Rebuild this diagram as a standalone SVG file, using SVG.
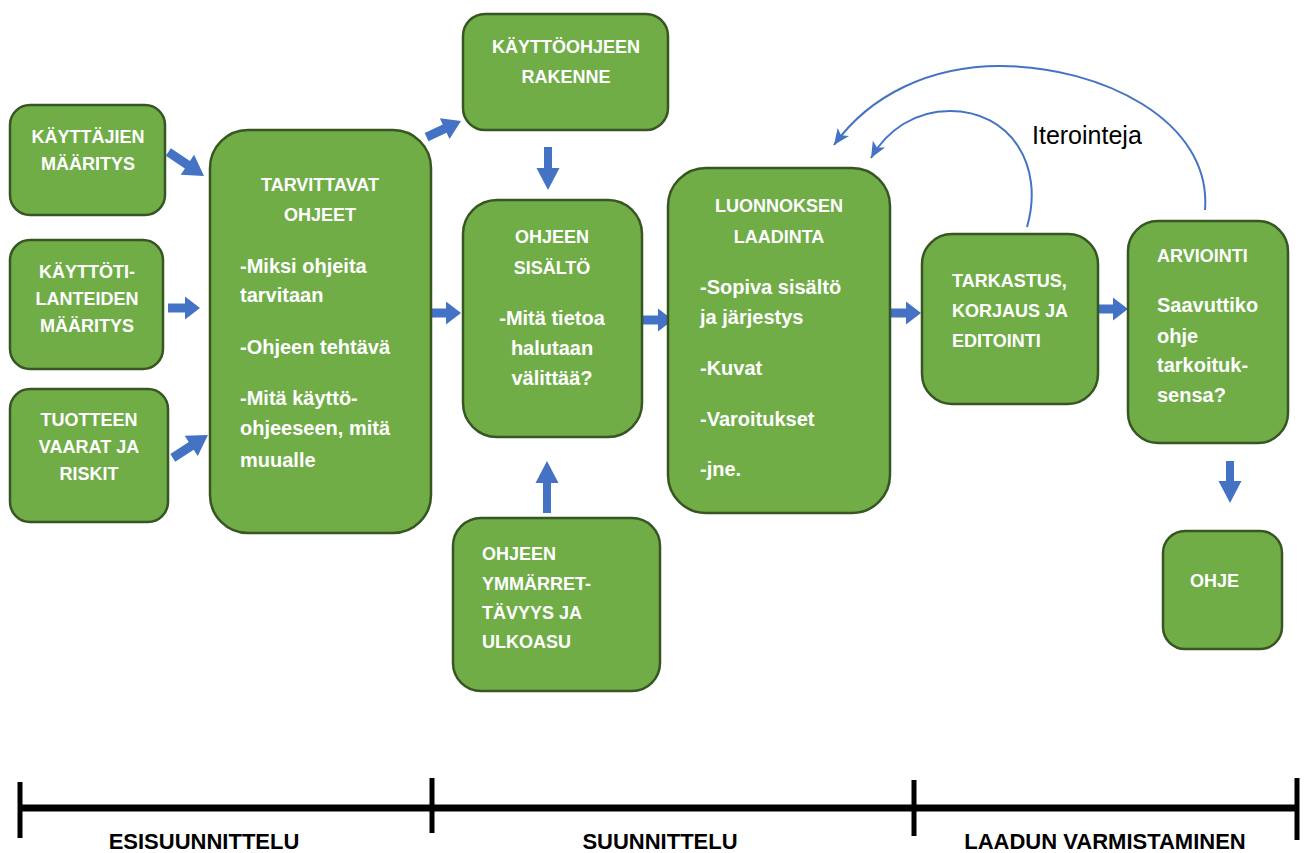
<svg xmlns="http://www.w3.org/2000/svg" width="1304" height="853" viewBox="0 0 1304 853">
<defs>
<style>
.box{fill:#70AD47;stroke:#375623;stroke-width:2.5}
.h{font-family:"Liberation Sans",Arial,sans-serif;font-weight:bold;font-size:18px;fill:#fff}
.b{font-family:"Liberation Sans",Arial,sans-serif;font-weight:bold;font-size:20px;fill:#fff}
.c{text-anchor:middle}
.ba{fill:#4472C4}
.curve{fill:none;stroke:#4472C4;stroke-width:2}
.tl{stroke:#000;fill:none}
.lab{font-family:"Liberation Sans",Arial,sans-serif;font-weight:bold;font-size:22px;fill:#000;text-anchor:middle}
</style>
<marker id="ah" markerUnits="userSpaceOnUse" markerWidth="18" markerHeight="14" refX="16" refY="7" orient="auto">
<path d="M0,0 L16,7 L0,14 L4,7 Z" fill="#4472C4"/>
</marker>
</defs>
<rect width="1304" height="853" fill="#fff"/>

<g id="connectors">
<path class="ba" transform="translate(204,176) rotate(34)" d="M-43,-4.5 H-20 V-12 L0,0 L-20,12 V4.5 H-43 Z"/>
<path class="ba" transform="translate(200,308)" d="M-32,-4.5 H-15 V-11.5 L0,0 L-15,11.5 V4.5 H-32 Z"/>
<path class="ba" transform="translate(208,435) rotate(-33)" d="M-42,-4.5 H-20 V-12 L0,0 L-20,12 V4.5 H-42 Z"/>
<path class="ba" transform="translate(461,121) rotate(-25)" d="M-38,-4.5 H-18 V-11.5 L0,0 L-18,11.5 V4.5 H-38 Z"/>
<path class="ba" transform="translate(461,313)" d="M-30,-4.5 H-15 V-11.5 L0,0 L-15,11.5 V4.5 H-30 Z"/>
<path class="ba" transform="translate(548,190) rotate(90)" d="M-43,-4 H-22 V-11.5 L0,0 L-22,11.5 V4 H-43 Z"/>
<path class="ba" transform="translate(547,461) rotate(-90)" d="M-52,-4 H-22 V-11.5 L0,0 L-22,11.5 V4 H-52 Z"/>
<path class="ba" transform="translate(673,320)" d="M-30,-4.5 H-15 V-11.5 L0,0 L-15,11.5 V4.5 H-30 Z"/>
<path class="ba" transform="translate(921,313)" d="M-31,-4.5 H-15 V-11.5 L0,0 L-15,11.5 V4.5 H-31 Z"/>
<path class="ba" transform="translate(1128,309)" d="M-30,-4.5 H-15 V-11.5 L0,0 L-15,11.5 V4.5 H-30 Z"/>
<path class="ba" transform="translate(1230,503) rotate(90)" d="M-42,-4 H-22 V-11.5 L0,0 L-22,11.5 V4 H-42 Z"/>
<path class="curve" marker-end="url(#ah)" d="M1205,210 C1212,120 1100,66 1000,66 C930,66 870,95 834,145"/>
<path class="curve" marker-end="url(#ah)" d="M1027,227 C1045,165 1010,111 950,111 C915,111 887,130 871,158"/>
<text x="1032" y="144" font-family="Liberation Sans, Arial, sans-serif" font-size="25" fill="#000">Iterointeja</text>
</g>

<g id="n-kayttajien">
<rect class="box" x="10" y="105" width="155" height="110" rx="20"/>
<text class="h c" x="88" y="143">KÄYTTÄJIEN</text>
<text class="h c" x="88" y="170">MÄÄRITYS</text>
</g>
<g id="n-kayttotilanteiden">
<rect class="box" x="10" y="240" width="153" height="129" rx="20"/>
<text class="h c" x="87" y="278">KÄYTTÖTI-</text>
<text class="h c" x="87" y="305">LANTEIDEN</text>
<text class="h c" x="87" y="332">MÄÄRITYS</text>
</g>
<g id="n-tuotteen">
<rect class="box" x="10" y="389" width="158" height="133" rx="20"/>
<text class="h c" x="89" y="426">TUOTTEEN</text>
<text class="h c" x="89" y="453">VAARAT JA</text>
<text class="h c" x="89" y="480">RISKIT</text>
</g>
<g id="n-tarvittavat">
<rect class="box" x="210" y="130" width="221" height="403" rx="38"/>
<text class="h c" x="320" y="191">TARVITTAVAT</text>
<text class="h c" x="320" y="221">OHJEET</text>
<text class="b" x="240" y="273">-Miksi ohjeita</text>
<text class="b" x="240" y="302">tarvitaan</text>
<text class="b" x="240" y="354">-Ohjeen tehtävä</text>
<text class="b" x="240" y="405">-Mitä käyttö-</text>
<text class="b" x="240" y="435">ohjeeseen, mitä</text>
<text class="b" x="240" y="467">muualle</text>
</g>
<g id="n-rakenne">
<rect class="box" x="463" y="14" width="205" height="116" rx="22"/>
<text class="h c" x="566" y="53">KÄYTTÖOHJEEN</text>
<text class="h c" x="566" y="83">RAKENNE</text>
</g>
<g id="n-sisalto">
<rect class="box" x="463" y="200" width="179" height="237" rx="34"/>
<text class="h c" x="552" y="243">OHJEEN</text>
<text class="h c" x="552" y="274">SISÄLTÖ</text>
<text class="b c" x="552" y="325">-Mitä tietoa</text>
<text class="b c" x="552" y="355">halutaan</text>
<text class="b c" x="552" y="385">välittää?</text>
</g>
<g id="n-luonnoksen">
<rect class="box" x="668" y="168" width="222" height="345" rx="38"/>
<text class="h c" x="779" y="212">LUONNOKSEN</text>
<text class="h c" x="779" y="243">LAADINTA</text>
<text class="b" x="700" y="294">-Sopiva sisältö</text>
<text class="b" x="700" y="324">ja järjestys</text>
<text class="b" x="700" y="375">-Kuvat</text>
<text class="b" x="700" y="426">-Varoitukset</text>
<text class="b" x="700" y="476">-jne.</text>
</g>
<g id="n-ymmarrettavyys">
<rect class="box" x="453" y="518" width="207" height="173" rx="28"/>
<text class="h" x="482" y="560">OHJEEN</text>
<text class="h" x="482" y="590">YMMÄRRET-</text>
<text class="h" x="482" y="619">TÄVYYS JA</text>
<text class="h" x="482" y="648">ULKOASU</text>
</g>
<g id="n-tarkastus">
<rect class="box" x="922" y="234" width="176" height="170" rx="30"/>
<text class="h" x="952" y="287">TARKASTUS,</text>
<text class="h" x="952" y="317">KORJAUS JA</text>
<text class="h" x="952" y="347">EDITOINTI</text>
</g>
<g id="n-arviointi">
<rect class="box" x="1128" y="221" width="160" height="222" rx="30"/>
<text class="h" x="1157" y="262">ARVIOINTI</text>
<text class="b" x="1157" y="312">Saavuttiko</text>
<text class="b" x="1157" y="343">ohje</text>
<text class="b" x="1157" y="372">tarkoituk-</text>
<text class="b" x="1157" y="402">sensa?</text>
</g>
<g id="n-ohje">
<rect class="box" x="1163" y="531" width="119" height="118" rx="22"/>
<text class="h" x="1190" y="587">OHJE</text>
</g>

<g id="timeline">
<line class="tl" x1="18" y1="808" x2="1299" y2="808" stroke-width="7"/>
<line class="tl" x1="20" y1="782" x2="20" y2="838" stroke-width="5"/>
<line class="tl" x1="432" y1="778" x2="432" y2="833" stroke-width="5"/>
<line class="tl" x1="914" y1="780" x2="914" y2="836" stroke-width="5"/>
<line class="tl" x1="1297" y1="778" x2="1297" y2="840" stroke-width="5"/>
<text class="lab" x="204" y="849">ESISUUNNITTELU</text>
<text class="lab" x="660" y="849">SUUNNITTELU</text>
<text class="lab" x="1105" y="849">LAADUN VARMISTAMINEN</text>
</g>
</svg>
